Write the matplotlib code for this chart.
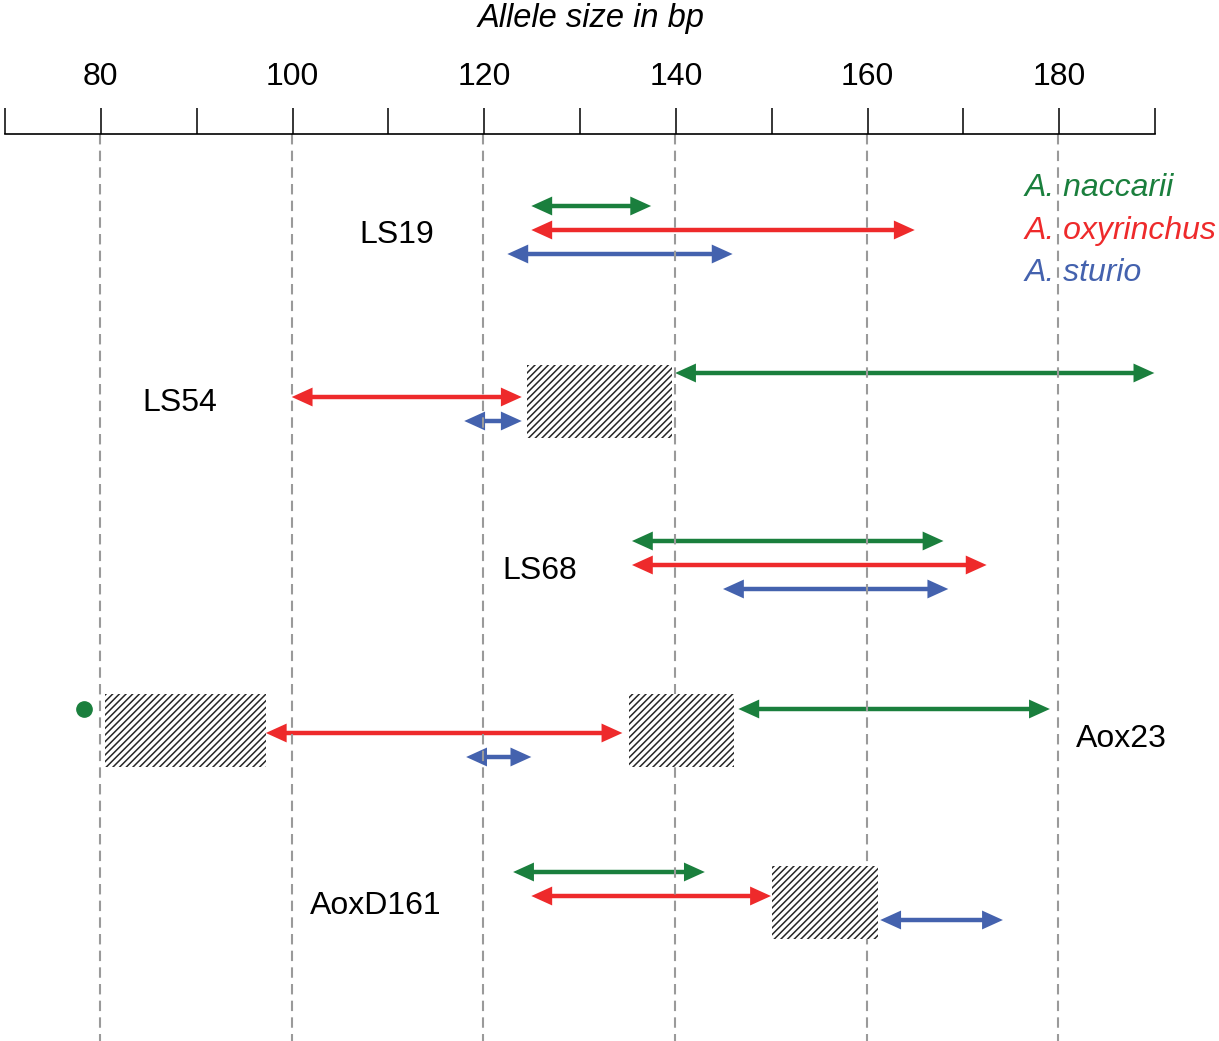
import matplotlib
matplotlib.use("Agg")
import matplotlib.pyplot as plt
from matplotlib.patches import FancyArrowPatch, Rectangle, ArrowStyle

plt.rcParams['font.family'] = ['Liberation Sans', 'DejaVu Sans']
plt.rcParams['hatch.linewidth'] = 1.1

# ---------------- data ----------------
markers = ['LS19', 'LS54', 'LS68', 'Aox23', 'AoxD161']
species = ['A. naccarii', 'A. oxyrinchus', 'A. sturio']
colors = ['#1a7f3d', '#ee2a2b', '#4462ae']

# allele size ranges (bp) per marker
naccarii_lo = [125.0, 140.0, 135.5, 146.6, 123.1]
naccarii_hi = [137.5, 190.0, 168.0, 179.1, 143.1]
oxyrinchus_lo = [125.0, 100.0, 135.5, 97.3, 125.0]
oxyrinchus_hi = [165.0, 124.0, 172.5, 134.5, 150.0]
sturio_lo = [122.5, 118.0, 145.0, 118.2, 161.4]
sturio_hi = [146.0, 124.0, 168.5, 125.0, 174.2]

# vertical row positions (pixel-like units, top = 0)
naccarii_y = [206, 373, 541, 709, 872]
oxyrinchus_y = [230, 397, 565, 733, 896]
sturio_y = [254, 421, 589, 757, 920]

# hatched (null/undefined) regions: marker index, lo, hi, top
box_marker = [1, 3, 3, 4]
box_lo = [124.5, 80.5, 135.2, 150.1]
box_hi = [139.7, 97.3, 146.1, 161.2]
box_top = [365, 694, 694, 866]
box_height = 73

# single allele point
dot_marker = 3
dot_x = 78.3

# marker label positions
label_x = [111.0, 88.3, 125.9, 186.6, 108.8]
label_y = [233, 401, 569, 737, 904]

major_ticks = [80, 100, 120, 140, 160, 180]
minor_ticks = [70, 90, 110, 130, 150, 170, 190]

# ---------------- figure ----------------
W, H = 1219, 1041
fig = plt.figure(figsize=(W / 100, H / 100), dpi=100)
ax = fig.add_axes([0, 0, 1, 1])
px_per_bp = 9.585
x0 = 80 - 100 / px_per_bp
x1 = 80 + (W - 100) / px_per_bp
ax.set_xlim(x0, x1)
ax.set_ylim(H, 0)
ax.axis('off')

# ruler axis
rl = 5 / W
rw = 1150 / W
ruler = fig.add_axes([rl, (H - 134) / H, rw, 0.0001])
ruler.set_xlim(70, 190)
for s in ['left', 'right', 'bottom']:
    ruler.spines[s].set_visible(False)
ruler.spines['top'].set_linewidth(1.2)
ruler.set_yticks([])
ruler.xaxis.set_ticks_position('top')
ruler.xaxis.set_label_position('top')
ruler.set_xticks(major_ticks)
ruler.set_xticks(minor_ticks, minor=True)
ruler.tick_params(axis='x', which='both', direction='out', length=18.5, width=1.1,
                  color='black')
ruler.tick_params(axis='x', which='major', labelsize=23, pad=12)
ruler.patch.set_visible(False)

fig.text(591 / W, 1 - 19 / H, 'Allele size in bp', ha='center', va='center',
         fontsize=23.5, style='italic')

# dashed gridlines
for t in major_ticks:
    ax.plot([t, t], [134, H], color='#9a9a9a', lw=1.5, dashes=[5, 3], zorder=2)

head_style = ArrowStyle('<|-|>', head_length=1.5, head_width=0.68)


def draw_arrow(lo, hi, y, c):
    # filled, sharp heads (no stroke)
    heads = FancyArrowPatch((lo, y), (hi, y), arrowstyle=head_style,
                            mutation_scale=10, lw=0, facecolor=c,
                            edgecolor='none', shrinkA=0, shrinkB=0, zorder=1)
    ax.add_patch(heads)
    # shaft, ending inside the heads
    shaft = FancyArrowPatch((lo, y), (hi, y), arrowstyle='-', lw=3.2,
                            color=c, shrinkA=9, shrinkB=9, zorder=1,
                            capstyle='butt')
    ax.add_patch(shaft)


for i in range(len(markers)):
    draw_arrow(naccarii_lo[i], naccarii_hi[i], naccarii_y[i], colors[0])
    draw_arrow(oxyrinchus_lo[i], oxyrinchus_hi[i], oxyrinchus_y[i], colors[1])
    draw_arrow(sturio_lo[i], sturio_hi[i], sturio_y[i], colors[2])
    ax.text(label_x[i], label_y[i] + 2, markers[i], ha='center', va='center',
            fontsize=23)

for m, lo, hi, top in zip(box_marker, box_lo, box_hi, box_top):
    r = Rectangle((lo, top), hi - lo, box_height, facecolor='white',
                  edgecolor='#262626', hatch='/////', lw=0, zorder=3)
    ax.add_patch(r)

ax.plot([dot_x], [naccarii_y[dot_marker]], 'o', color=colors[0], ms=11,
        zorder=4)

# legend
leg_x = 176.5
leg_y = [188, 231, 273]
for name, c, y in zip(species, colors, leg_y):
    ax.text(leg_x, y, name, color=c, fontsize=23, style='italic',
            ha='left', va='center')

fig.savefig('out.png', dpi=100)
